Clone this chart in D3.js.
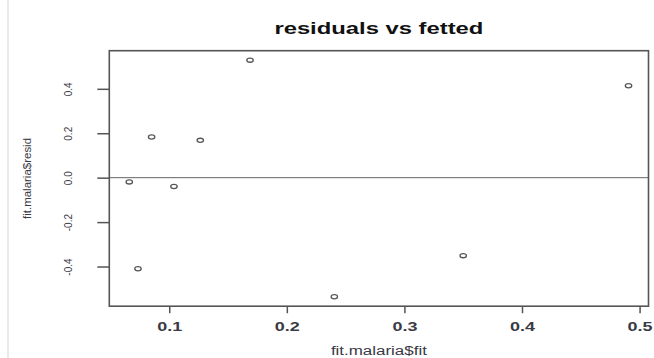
<!DOCTYPE html>
<meta charset="utf-8">
<style>
body { margin: 0; background: #fff; }
svg { display: block; font-family: Arial, "Liberation Sans", sans-serif; }
.box { fill: none; stroke: #555; stroke-width: 1.6px; }
.zero { stroke: #666; stroke-width: 1px; }
.pt { fill: none; stroke: #555; stroke-width: 1.3px; }
.tick line { stroke: #555; stroke-width: 1.5px; }
.tick text { fill: #3a3a44; }
</style>
<body>
<svg width="654" height="358"></svg>
<script src="https://d3js.org/d3.v7.min.js"></script>
<script>

// fitted values and residuals
var fitted = [0.066, 0.0734, 0.085, 0.104, 0.1264, 0.1687, 0.2404, 0.350, 0.4906]
var resid  = [-0.019, -0.410, 0.183, -0.040, 0.168, 0.529, -0.536, -0.351, 0.4135]
var xTicks = [0.1, 0.2, 0.3, 0.4, 0.5]
var yTicks = [-0.4, -0.2, 0.0, 0.2, 0.4]

var title = "residuals vs fetted",
    xlab = "fit.malaria$fit",
    ylab = "fit.malaria$resid"

var svg = d3.select("svg")

// plot region (R style, 4% padding on data range)
var L = 109.3, R = 648.5, T = 50.7, B = 306.2

function padded(v) {
  var e = d3.extent(v), p = (e[1] - e[0]) * 0.04
  return [e[0] - p, e[1] + p]
}

var x = d3.scaleLinear().domain(padded(fitted)).range([L, R])
var y = d3.scaleLinear().domain(padded(resid)).range([B, T])

// thin page edge line on the left
svg.append("line")
  .attr("x1", 8).attr("x2", 8).attr("y1", 0).attr("y2", 358)
  .attr("stroke", "#e2e2e2").attr("stroke-width", 1.5)

// zero reference line
svg.append("line").attr("class", "zero")
  .attr("x1", L).attr("x2", R)
  .attr("y1", y(0)).attr("y2", y(0))

// points
svg.selectAll(".pt")
  .data(d3.zip(fitted, resid))
  .enter().append("ellipse")
    .attr("class", "pt")
    .attr("cx", d => x(d[0]))
    .attr("cy", d => y(d[1]))
    .attr("rx", 3.2)
    .attr("ry", 2.1)

// x axis
var gx = svg.append("g")
  .attr("transform", `translate(0,${B})`)
  .call(d3.axisBottom(x).tickValues(xTicks).tickSize(7).tickPadding(0).tickFormat(d => d.toFixed(1)))
gx.select(".domain").remove()
gx.selectAll(".tick text")
  .attr("y", 24.5).attr("dy", null)
  .attr("font-size", 12.5).attr("font-weight", "bold")
  .attr("textLength", 25).attr("lengthAdjust", "spacingAndGlyphs")

// y axis, labels turned like R's default las=0
var gy = svg.append("g")
  .attr("transform", `translate(${L},0)`)
  .call(d3.axisLeft(y).tickValues(yTicks).tickSize(12).tickPadding(0).tickFormat(d => d.toFixed(1)))
gy.select(".domain").remove()
gy.selectAll(".tick text")
  .attr("x", null).attr("dy", null)
  .attr("text-anchor", "middle")
  .attr("font-size", 10)
  .attr("transform", "translate(-37.5,0) rotate(-90)")

// box
svg.append("rect").attr("class", "box")
  .attr("x", L).attr("y", T)
  .attr("width", R - L).attr("height", B - T)

// title
svg.append("text")
  .attr("x", (L + R) / 2).attr("y", 33.5)
  .attr("text-anchor", "middle")
  .attr("font-size", 17).attr("font-weight", "bold")
  .attr("fill", "#111")
  .attr("textLength", 209).attr("lengthAdjust", "spacingAndGlyphs")
  .text(title)

// axis titles
svg.append("text")
  .attr("x", (L + R) / 2).attr("y", 354.5)
  .attr("text-anchor", "middle")
  .attr("font-size", 12)
  .attr("fill", "#3a3a44")
  .attr("textLength", 96).attr("lengthAdjust", "spacingAndGlyphs")
  .text(xlab)

svg.append("text")
  .attr("transform", `translate(30.5,${(T + B) / 2}) rotate(-90)`)
  .attr("text-anchor", "middle")
  .attr("font-size", 11.5)
  .attr("fill", "#3a3a44")
  .attr("textLength", 81).attr("lengthAdjust", "spacingAndGlyphs")
  .text(ylab)

</script>
</body>
